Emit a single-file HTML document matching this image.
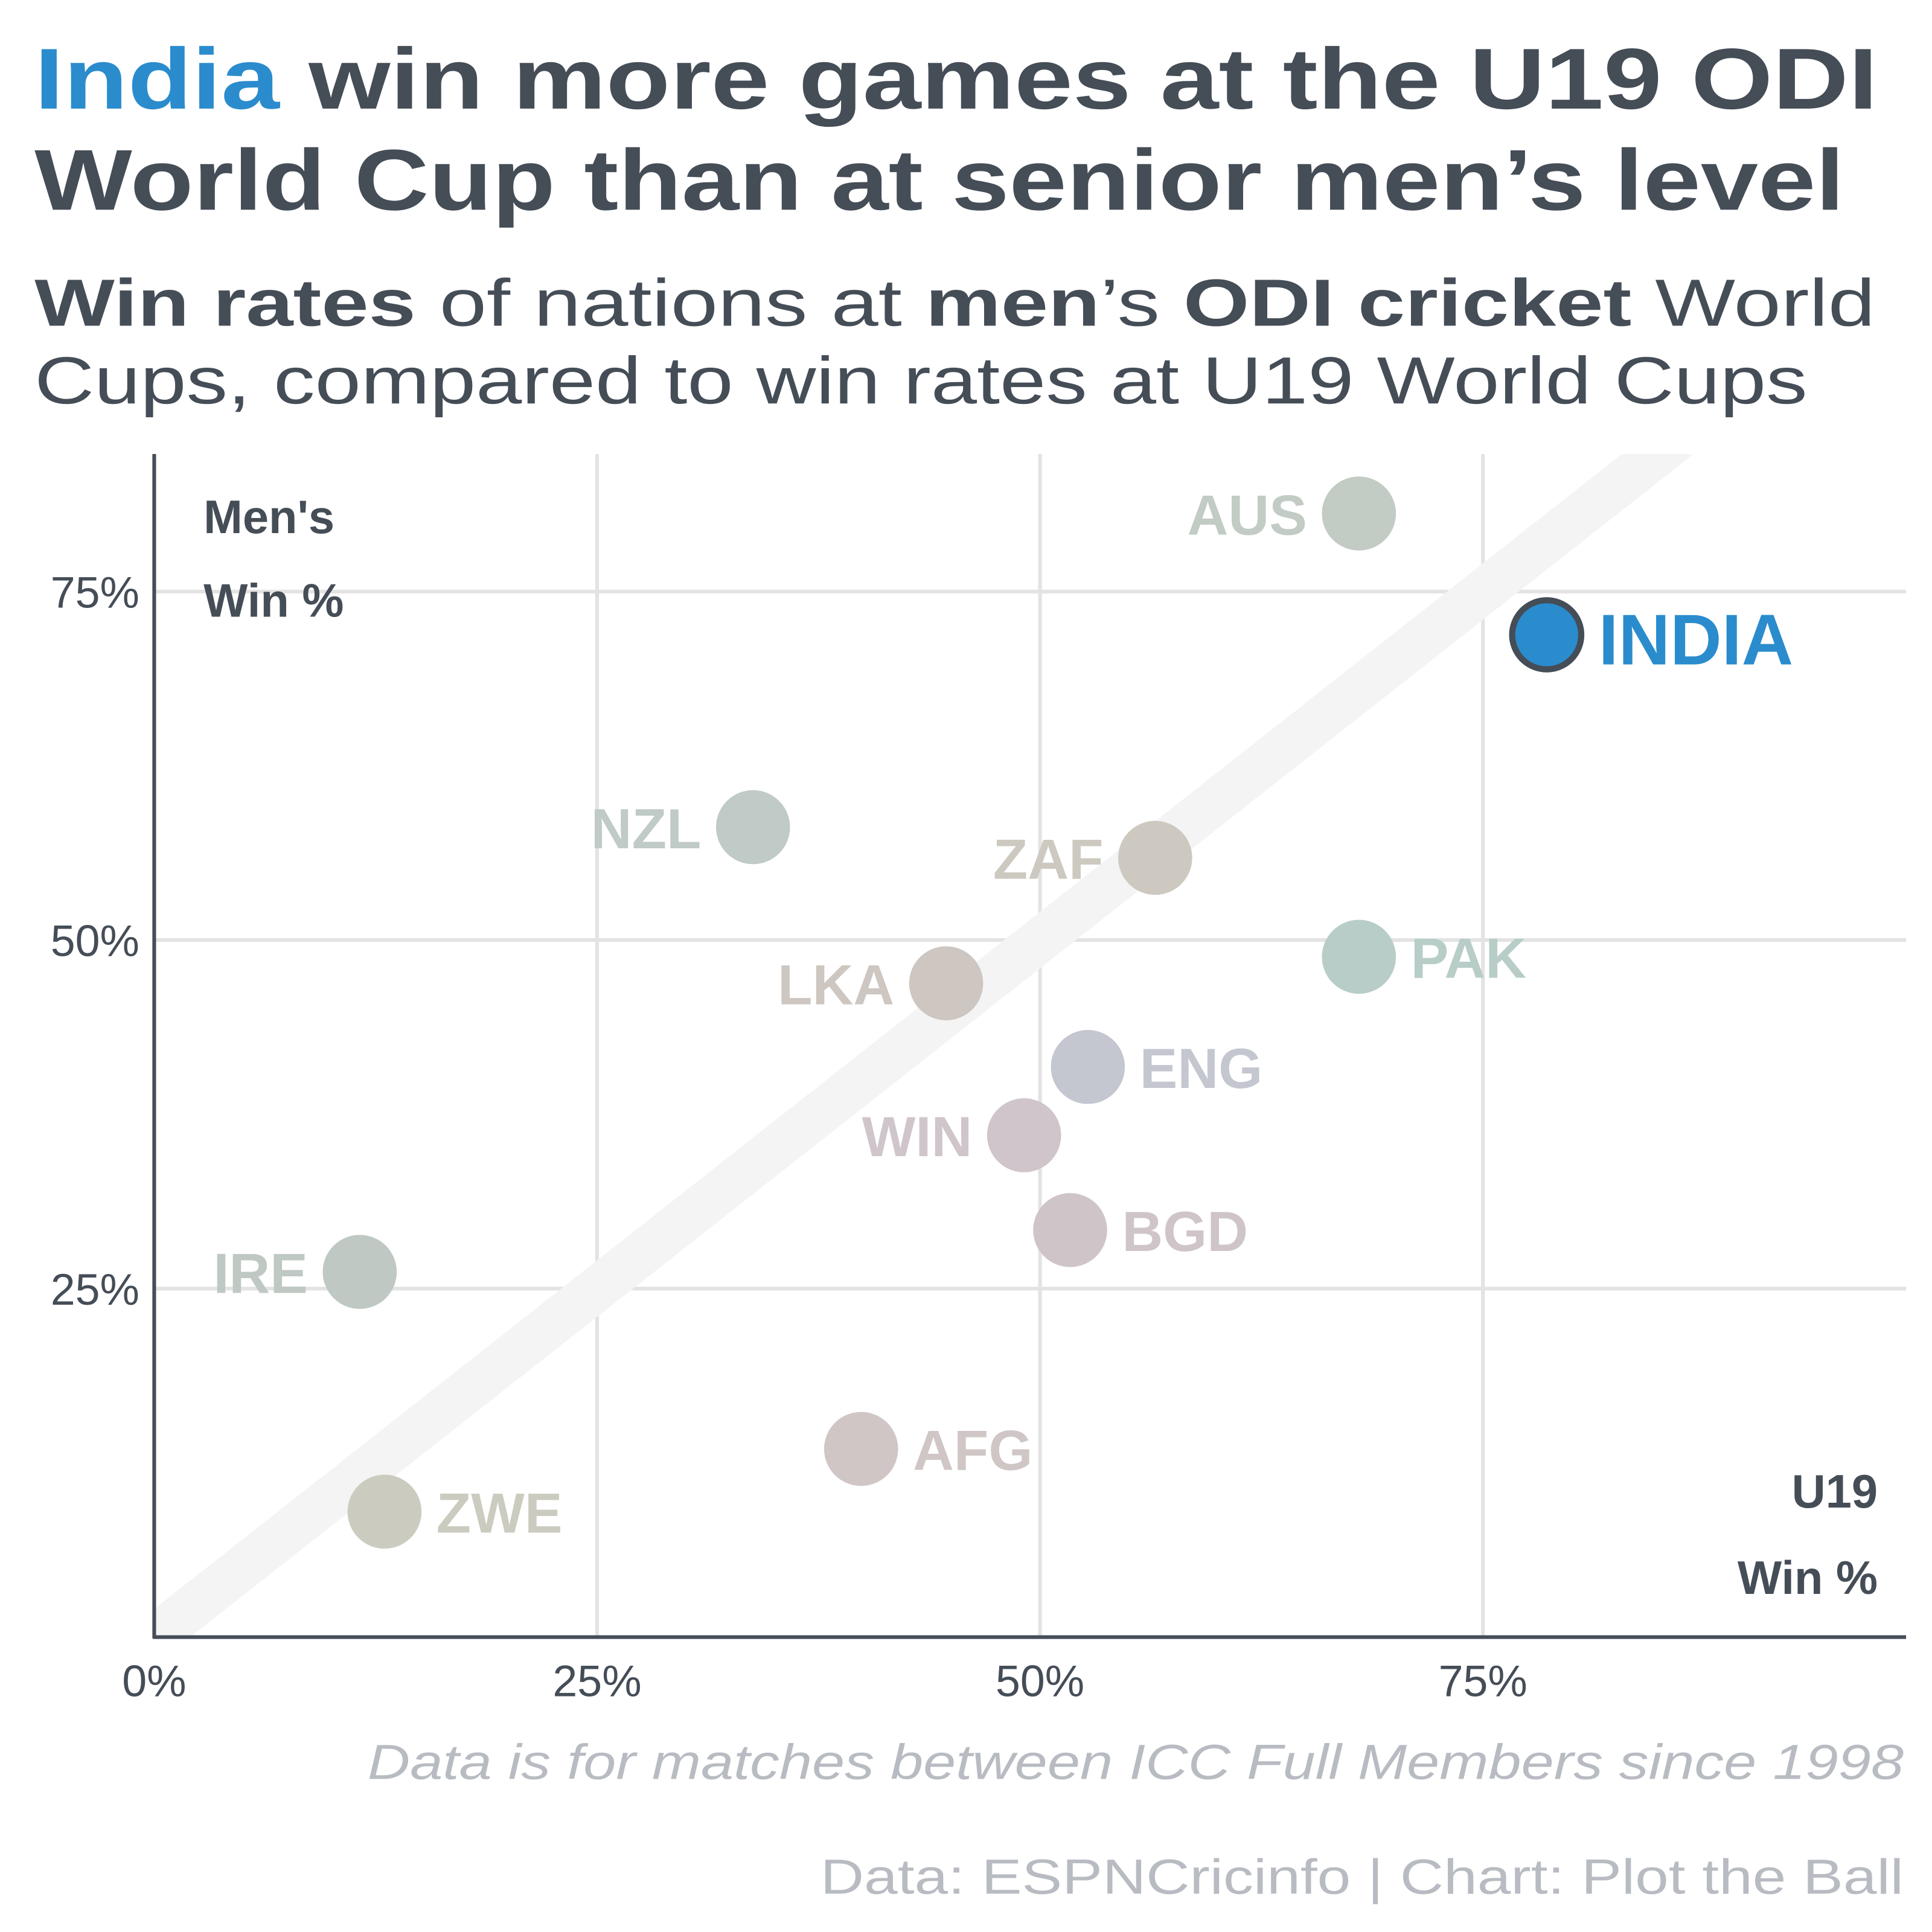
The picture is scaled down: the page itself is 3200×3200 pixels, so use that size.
<!DOCTYPE html>
<html><head><meta charset="utf-8"><style>
html,body{margin:0;padding:0;background:#fff;}
svg{display:block;}
text{font-family:"Liberation Sans",sans-serif;}
</style></head><body>
<svg id="chart" width="3200" height="3200" viewBox="0 0 1566 1566" xmlns="http://www.w3.org/2000/svg">
<defs><clipPath id="plotclip"><rect x="125" y="368" width="1420" height="960"/></clipPath></defs>
<rect width="1566" height="1566" fill="#fff"/>
<text x="28" y="88" font-size="70" font-weight="bold" fill="#454d57" textLength="1494" lengthAdjust="spacingAndGlyphs"><tspan fill="#2a8ccd">India</tspan> win more games at the U19 ODI</text>
<text x="28" y="170" font-size="70" font-weight="bold" fill="#454d57" textLength="1467" lengthAdjust="spacingAndGlyphs">World Cup than at senior men’s level</text>
<text x="28" y="264" font-size="54" fill="#454d57" textLength="1492" lengthAdjust="spacingAndGlyphs"><tspan font-weight="bold">Win rates</tspan> of nations at <tspan font-weight="bold">men</tspan>’s <tspan font-weight="bold">ODI cricket</tspan> World</text>
<text x="28" y="327" font-size="54" fill="#454d57" textLength="1437" lengthAdjust="spacingAndGlyphs">Cups, compared to win rates at U19 World Cups</text>
<g id="grid"></g>
<line id="diag" stroke="#f4f4f4" stroke-width="36" clip-path="url(#plotclip)"/>
<g id="marks"></g>
<line x1="125" y1="368" x2="125" y2="1328" stroke="#454d57" stroke-width="3"/>
<line x1="124" y1="1327" x2="1545" y2="1327" stroke="#454d57" stroke-width="3"/>
<text x="165" y="432" font-size="38" font-weight="bold" fill="#454d57">Men's</text>
<text x="165" y="500" font-size="38" font-weight="bold" fill="#454d57">Win %</text>
<text x="1522" y="1222" font-size="38" font-weight="bold" fill="#454d57" text-anchor="end">U19</text>
<text x="1522" y="1292" font-size="38" font-weight="bold" fill="#454d57" text-anchor="end">Win %</text>
<text x="1543" y="1442" font-size="40" font-style="italic" fill="#b8bcc2" text-anchor="end" textLength="1245" lengthAdjust="spacingAndGlyphs">Data is for matches between ICC Full Members since 1998</text>
<text x="1543" y="1535" font-size="40" fill="#b8bcc2" text-anchor="end" textLength="878" lengthAdjust="spacingAndGlyphs">Data: ESPNCricinfo | Chart: Plot the Ball</text>
</svg>
<script>
const teams = ["AUS","INDIA","NZL","ZAF","PAK","LKA","ENG","WIN","BGD","IRE","AFG","ZWE"];
const u19Win = [68.0,78.6,33.8,56.5,68.0,44.7,52.7,49.1,51.7,11.6,39.9,13.0];
const mensWin = [80.6,71.9,58.1,55.9,48.8,46.9,40.9,36.0,29.2,26.2,13.5,9.0];
const colors = ["#c2cbc4","#2a8ccd","#c0cac6","#cdc9c0","#b8cdc8","#cdc6c1","#c4c7d0","#cfc5cb","#cfc5c8","#bfc8c2","#d0c6c6","#cccbc0"];
const labelSide = ["left","right","left","left","right","left","right","left","right","left","right","right"];
const ticks = [0,25,50,75];
const tickLabels = ["0%","25%","50%","75%"];
const NS="http://www.w3.org/2000/svg";
const X=v=>125+v*14.36;
const Y=v=>1327-v*11.3;
function mk(tag,attrs,parent){const e=document.createElementNS(NS,tag);for(const k in attrs)e.setAttribute(k,attrs[k]);parent.appendChild(e);return e;}
const grid=document.getElementById('grid');
const svg=document.getElementById('chart');
ticks.forEach((t,i)=>{
  if(t>0){
    const gv=mk('line',{x1:X(t),x2:X(t),y1:368,y2:1327,stroke:'#e3e3e3','stroke-width':3},grid);
    
    
    const gh=mk('line',{x1:125,x2:1545,y1:Y(t),y2:Y(t),stroke:'#e3e3e3','stroke-width':3},grid);
    
    
    const yl=mk('text',{x:113,y:Y(t)+13,'font-size':36,fill:'#454d57','text-anchor':'end'},svg);
    yl.textContent=tickLabels[i];
    
    
  }
  const xl=mk('text',{x:X(t),y:1375,'font-size':36,fill:'#454d57','text-anchor':'middle'},svg);
  xl.textContent=tickLabels[i];
  
  
});
const d=document.getElementById('diag');
d.setAttribute('x1',X(-2));d.setAttribute('y1',Y(-2));
d.setAttribute('x2',X(90));d.setAttribute('y2',Y(90));
const marks=document.getElementById('marks');
teams.forEach((t,i)=>{
  const cx=X(u19Win[i]), cy=Y(mensWin[i]);
  const isIndia=t==="INDIA";
  const c=mk('circle',{cx:cx,cy:cy,r:isIndia?28:30,fill:colors[i]},marks);
  if(isIndia){c.setAttribute('stroke','#454d57');c.setAttribute('stroke-width',5);}
  
  
  const right=labelSide[i]==="right";
  const l=mk('text',{x:right?cx+42:cx-42,y:cy+(isIndia?24:17),'font-size':isIndia?58:46,'font-weight':'bold',fill:colors[i],'text-anchor':right?'start':'end'},marks);
  l.textContent=t;
  
  
});
</script>
</body></html>
